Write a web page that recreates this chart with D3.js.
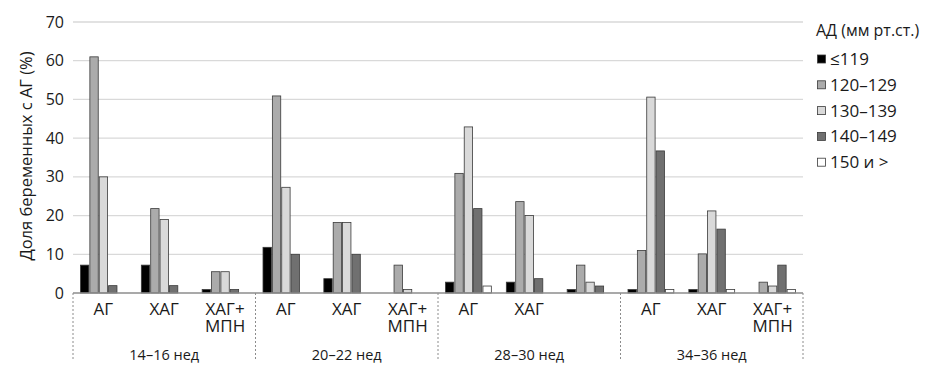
<!DOCTYPE html>
<html><head><meta charset="utf-8">
<script src="https://cdn.jsdelivr.net/npm/d3@7"></script>
<style>body{margin:0;background:#fff}svg{display:block}text{font-family:"Open Sans",sans-serif;fill:#1a1a1a}</style>
</head><body><svg id="c" width="947" height="381"></svg>
<script>
const categories = ["АГ","ХАГ","ХАГ+\nМПН","АГ","ХАГ","ХАГ+\nМПН","АГ","ХАГ","","АГ","ХАГ","ХАГ+\nМПН"];
const groups = ["14–16 нед","20–22 нед","28–30 нед","34–36 нед"];
const seriesNames = ["≤119","120–129","130–139","140–149","150 и >"];
const s119 = [7.2, 7.2, 0.9, 11.8, 3.7, 0, 2.8, 2.8, 0.9, 0.9, 0.9, 0];
const s120 = [61, 21.8, 5.5, 50.9, 18.2, 7.2, 30.9, 23.6, 7.2, 11, 10.1, 2.8];
const s130 = [30, 19, 5.5, 27.3, 18.2, 0.9, 42.9, 20, 2.8, 50.6, 21.2, 1.8];
const s140 = [1.9, 1.9, 0.9, 10, 10, 0, 21.8, 3.7, 1.8, 36.7, 16.5, 7.2];
const s150 = [0, 0, 0, 0, 0, 0, 1.8, 0, 0, 0.9, 0.9, 0.9];
const yTicks = [0,10,20,30,40,50,60,70];
const legendTitle = "АД (мм рт.ст.)";
const yTitle = "Доля беременных с АГ (%)";

const series = [s119, s120, s130, s140, s150];
const colors = ["#000000","#ababab","#d9d9d9","#707070","#ffffff"];

const svg = d3.select("#c");
const L = 73, R = 803, T = 22, B = 293;
const y = d3.scaleLinear().domain([0,70]).range([B,T]);
const x0 = d3.scaleBand().domain(d3.range(categories.length)).range([L,R]).padding(0);
const gap = 7;
const x1 = d3.scaleBand().domain(d3.range(series.length)).range([gap, x0.bandwidth()-gap]).padding(0);

// gridlines
svg.append("g").selectAll("line").data(yTicks.filter(d=>d>0)).join("line")
  .attr("x1",L).attr("x2",R).attr("y1",d=>y(d)).attr("y2",d=>y(d))
  .attr("stroke","#d9d9d9").attr("stroke-width",1.3);

// y tick labels
svg.append("g").selectAll("text").data(yTicks).join("text")
  .attr("x",64).attr("y",d=>y(d)+5.5).attr("text-anchor","end")
  .attr("font-size",16).text(d=>d);

// bars
series.forEach((s,si)=>{
  svg.append("g").selectAll("rect").data(s.map((v,i)=>({v,i})).filter(d=>d.v>0)).join("rect")
    .attr("x",d=>x0(d.i)+x1(si)+0.5).attr("width",x1.bandwidth()-1)
    .attr("y",d=>y(d.v)).attr("height",d=>B-y(d.v))
    .attr("fill",colors[si]).attr("stroke","#3a3a3a").attr("stroke-width",0.8);
});

// baseline
svg.append("line").attr("x1",L).attr("x2",R).attr("y1",B).attr("y2",B)
  .attr("stroke","#8c8c8c").attr("stroke-width",1.3);

// dividers
const divs = d3.range(groups.length+1).map(g=> g<groups.length ? x0(g*3) : R);
svg.append("g").selectAll("line").data(divs).join("line")
  .attr("x1",d=>d).attr("x2",d=>d).attr("y1",B).attr("y2",360)
  .attr("stroke","#8c8c8c").attr("stroke-width",1).attr("stroke-dasharray","2,2");

// category labels
const cl = svg.append("g");
categories.forEach((c,i)=>{
  const lines = c.split("\n");
  const t = cl.append("text").attr("x",x0(i)+x0.bandwidth()/2).attr("y",315)
    .attr("text-anchor","middle").attr("font-size",17);
  lines.forEach((ln,k)=>t.append("tspan").attr("x",x0(i)+x0.bandwidth()/2).attr("dy",k?17:0).text(ln));
});

// group labels
svg.append("g").selectAll("text").data(groups).join("text")
  .attr("x",(d,g)=>(divs[g]+divs[g+1])/2).attr("y",360).attr("text-anchor","middle")
  .attr("font-size",14.5).text(d=>d);

// y title
svg.append("text").attr("transform","translate(32,156) rotate(-90)")
  .attr("text-anchor","middle").attr("font-size",16.5).text(yTitle);

// legend
svg.append("text").attr("x",816).attr("y",36).attr("font-size",16).text(legendTitle);
const lg = svg.append("g").selectAll("g").data(seriesNames).join("g")
  .attr("transform",(d,i)=>`translate(817,${59+i*25.8})`);
lg.append("rect").attr("x",0.5).attr("y",-4).attr("width",8).attr("height",8)
  .attr("fill",(d,i)=>colors[i]).attr("stroke","#3a3a3a").attr("stroke-width",0.8);
lg.append("text").attr("x",13).attr("y",6).attr("font-size",17).text(d=>d);
</script></body></html>
